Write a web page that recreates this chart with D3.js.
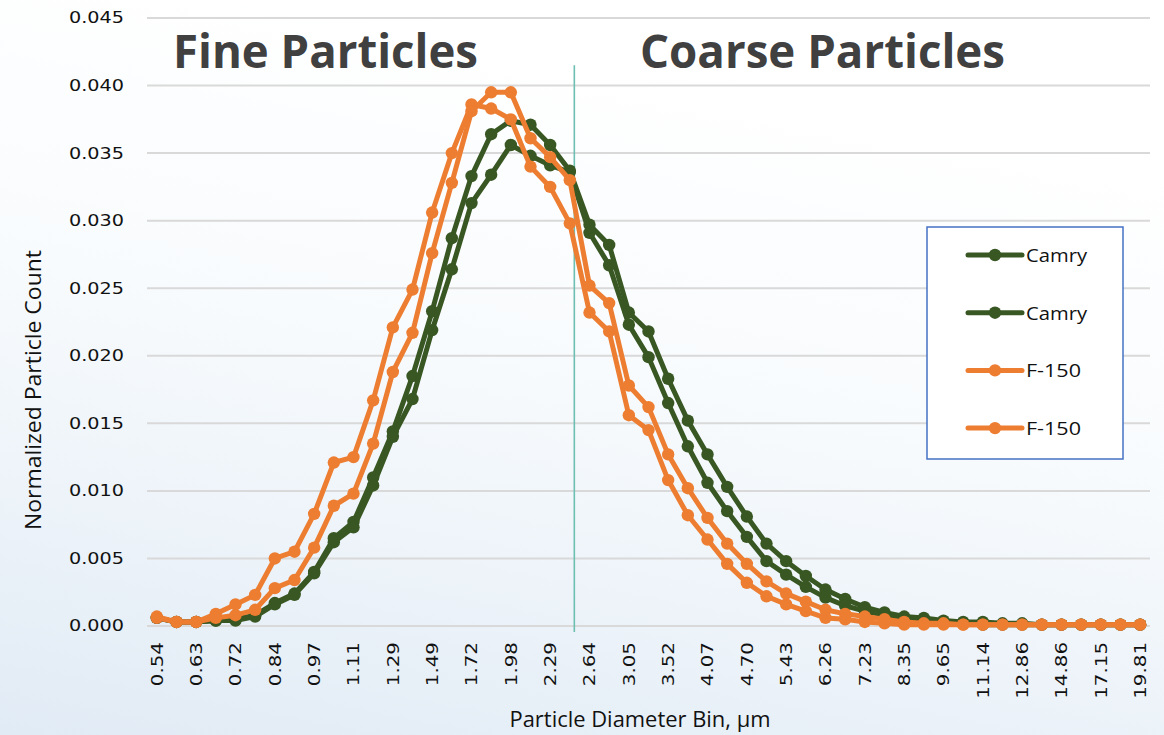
<!DOCTYPE html>
<html><head><meta charset="utf-8">
<script src="https://cdn.jsdelivr.net/npm/d3@7"></script>
<style>body{margin:0;background:#fff;} svg{display:block;}</style>
</head><body>
<svg id="chart" width="1164" height="735"></svg>
<script>
// ---------- data ----------
const bins = ["0.54","0.58","0.63","0.67","0.72","0.78","0.84","0.90","0.97","1.04","1.11","1.20","1.29","1.38","1.49","1.60","1.72","1.84","1.98","2.13","2.29","2.46","2.64","2.84","3.05","3.28","3.52","3.79","4.07","4.37","4.70","5.05","5.43","5.83","6.26","6.73","7.23","7.77","8.35","8.98","9.65","10.37","11.14","11.97","12.86","13.82","14.86","15.96","17.15","18.43","19.81"];
const xTickLabels = ["0.54","0.63","0.72","0.84","0.97","1.11","1.29","1.49","1.72","1.98","2.29","2.64","3.05","3.52","4.07","4.70","5.43","6.26","7.23","8.35","9.65","11.14","12.86","14.86","17.15","19.81"];
const yTicks = [0,0.005,0.010,0.015,0.020,0.025,0.030,0.035,0.040,0.045];
const seriesNames = ["Camry","Camry","F-150","F-150"];
const camryA = [0.0006,0.0003,0.0003,0.0004,0.0005,0.0008,0.0017,0.0024,0.0040,0.0065,0.0077,0.0110,0.0144,
  0.0185,0.0233,0.0287,0.0333,0.0364,
  0.0374,0.0371,0.0356,0.0337,
  0.0297,0.0282,0.0232,0.0218,0.0183,0.0152,0.0127,0.0103,0.0081,0.0061,0.0048,0.0037,0.0027,0.0020,
  0.0014,0.0010,0.0007,0.0006,0.0004,0.0003,0.0003,0.0002,0.0002,0.0001,0.0001,0.0001,0.0001,0.0001,0.0001];
const camryB = [0.0006,0.0003,0.0003,0.0004,0.0004,0.0007,0.0016,0.0023,0.0039,0.0062,0.0073,0.0104,0.0140,
  0.0168,0.0219,0.0264,0.0313,0.0334,
  0.0356,0.0348,0.0341,0.0336,
  0.0291,0.0267,0.0223,0.0199,0.0165,0.0133,0.0106,0.0085,0.0066,0.0048,0.0038,0.0029,0.0021,0.0015,
  0.0011,0.0008,0.0005,0.0004,0.0003,0.0002,0.0001,0.0001,0.0001,0.0001,0.0001,0.0001,0.0001,0.0001,0.0001];
const f150A = [0.0007,0.0003,0.0003,0.0009,0.0016,0.0023,0.0050,0.0055,0.0083,0.0121,0.0125,0.0167,0.0221,
  0.0249,0.0306,0.0350,0.0386,0.0383,
  0.0375,0.0340,0.0325,0.0298,
  0.0232,0.0218,0.0156,0.0145,0.0108,0.0082,0.0064,0.0046,0.0032,0.0022,0.0016,0.0011,0.0006,0.0005,
  0.0003,0.0002,0.0001,0.0001,0.0001,0.0001,0.0001,0.0001,0.0001,0.0001,0.0001,0.0001,0.0001,0.0001,0.0001];
const f150B = [0.0006,0.0003,0.0003,0.0006,0.0008,0.0012,0.0028,0.0034,0.0058,0.0089,0.0098,0.0135,0.0188,
  0.0217,0.0276,0.0328,0.0381,0.0395,
  0.0395,0.0361,0.0347,0.0330,
  0.0252,0.0239,0.0178,0.0162,0.0127,0.0102,0.0080,0.0061,0.0046,0.0033,0.0024,0.0018,0.0012,0.0009,
  0.0007,0.0005,0.0003,0.0002,0.0002,0.0001,0.0001,0.0001,0.0001,0.0001,0.0001,0.0001,0.0001,0.0001,0.0001];
const seriesValues = [camryA, camryB, f150A, f150B];
const seriesColors = ["#385723","#385723","#ED7D31","#ED7D31"];
const sizeCutoff = 2.5;               // fine / coarse boundary, µm
const regionLabels = ["Fine Particles","Coarse Particles"];
const yTitle = "Normalized Particle Count";
const xTitle = "Particle Diameter Bin, µm";

// ---------- layout ----------
const svg = d3.select("#chart");
const W = 1164, H = 735;
const m = {left:147, right:1150, top:18, bottom:626};

const defs = svg.append("defs");
const bg = defs.append("linearGradient").attr("id","bg").attr("x1",0.3).attr("y1",0).attr("x2",0).attr("y2",1);
bg.append("stop").attr("offset","0%").attr("stop-color","#ffffff");
bg.append("stop").attr("offset","40%").attr("stop-color","#f8fbfd");
bg.append("stop").attr("offset","100%").attr("stop-color","#e1ebf5");
svg.append("rect").attr("width",W).attr("height",H).attr("fill","url(#bg)");

const x = d3.scalePoint().domain(bins).range([m.left, m.right]).padding(0.5);
const y = d3.scaleLinear().domain([0, 0.045]).range([m.bottom, m.top]);

// gridlines
svg.append("g").selectAll("line").data(yTicks).join("line")
  .attr("x1", m.left).attr("x2", m.right)
  .attr("y1", d => y(d)).attr("y2", d => y(d))
  .attr("stroke", "#d9d9d9").attr("stroke-width", 2);

// y axis
const yAxis = svg.append("g").attr("transform", `translate(${m.left},0)`)
  .call(d3.axisLeft(y).tickValues(yTicks).tickFormat(d3.format(".3f")).tickSize(0));
yAxis.select(".domain").remove();
yAxis.selectAll("text")
  .attr("x", 0)
  .attr("transform", "translate(-23,0) scale(1.24,1)")
  .attr("font-family", "DejaVu Sans").attr("font-size", 15.5).attr("fill", "#111");

// x axis
const xAxis = svg.append("g").attr("transform", `translate(0,${m.bottom})`)
  .call(d3.axisBottom(x).tickValues(xTickLabels).tickSize(0));
xAxis.select(".domain").remove();
xAxis.selectAll("text")
  .attr("x", 0).attr("y", 0).attr("dy", "0.35em")
  .attr("transform", "translate(0,16) rotate(-90) scale(1.28,1)")
  .style("text-anchor", "end")
  .attr("font-family", "DejaVu Sans").attr("font-size", 15.5).attr("fill", "#111");

// fine / coarse divider at 2.5 µm (log interpolation between bins)
const bVals = bins.map(Number);
const k = bVals.findIndex((v, i) => v <= sizeCutoff && bVals[i+1] > sizeCutoff);
const frac = Math.log(sizeCutoff / bVals[k]) / Math.log(bVals[k+1] / bVals[k]);
const xCut = x(bins[k]) + frac * x.step();
svg.append("line")
  .attr("x1", xCut).attr("x2", xCut)
  .attr("y1", y(0.0415)).attr("y2", y(0) + 6)
  .attr("stroke", "#6dbfb2").attr("stroke-width", 1.6);

// series
const line = d3.line().x((d, i) => x(bins[i])).y(d => y(d));
seriesValues.forEach((vals, s) => {
  const g = svg.append("g");
  g.append("path").datum(vals).attr("d", line)
    .attr("fill", "none").attr("stroke", seriesColors[s])
    .attr("stroke-width", 5).attr("stroke-linejoin", "round").attr("stroke-linecap", "round");
  g.selectAll("circle").data(vals).join("circle")
    .attr("cx", (d, i) => x(bins[i])).attr("cy", d => y(d)).attr("r", 6.2)
    .attr("fill", seriesColors[s]);
});

// region labels
svg.append("text").text(regionLabels[0])
  .attr("x", 173).attr("y", 68)
  .attr("font-family", "Open Sans").attr("font-weight", 700).attr("font-size", 46)
  .attr("fill", "#404040").attr("textLength", 305).attr("lengthAdjust", "spacingAndGlyphs");
svg.append("text").text(regionLabels[1])
  .attr("x", 640).attr("y", 68)
  .attr("font-family", "Open Sans").attr("font-weight", 700).attr("font-size", 46)
  .attr("fill", "#404040").attr("textLength", 365).attr("lengthAdjust", "spacingAndGlyphs");

// axis titles
svg.append("text").text(yTitle)
  .attr("transform", "translate(33,390) rotate(-90)")
  .attr("text-anchor", "middle").attr("dominant-baseline", "central")
  .attr("font-family", "Open Sans").attr("font-size", 21).attr("fill", "#111")
  .attr("textLength", 280).attr("lengthAdjust", "spacingAndGlyphs");
svg.append("text").text(xTitle)
  .attr("x", 640).attr("y", 727)
  .attr("text-anchor", "middle")
  .attr("font-family", "Open Sans").attr("font-size", 21).attr("fill", "#111")
  .attr("textLength", 261).attr("lengthAdjust", "spacingAndGlyphs");

// legend
const lg = svg.append("g");
lg.append("rect").attr("x", 927).attr("y", 227).attr("width", 196).attr("height", 232)
  .attr("fill", "#ffffff").attr("stroke", "#4472C4").attr("stroke-width", 1.5);
const legendW = {"Camry": 61, "F-150": 55};
seriesNames.forEach((name, i) => {
  const cy = 255 + i * 57.7;
  lg.append("line").attr("x1", 968).attr("x2", 1022).attr("y1", cy).attr("y2", cy)
    .attr("stroke", seriesColors[i]).attr("stroke-width", 5).attr("stroke-linecap", "round");
  lg.append("circle").attr("cx", 995).attr("cy", cy).attr("r", 6.2).attr("fill", seriesColors[i]);
  lg.append("text").text(name).attr("x", 1026).attr("y", cy)
    .attr("dominant-baseline", "central")
    .attr("font-family", "Open Sans").attr("font-size", 19).attr("fill", "#111")
    .attr("textLength", legendW[name]).attr("lengthAdjust", "spacingAndGlyphs");
});
</script>
</body></html>
